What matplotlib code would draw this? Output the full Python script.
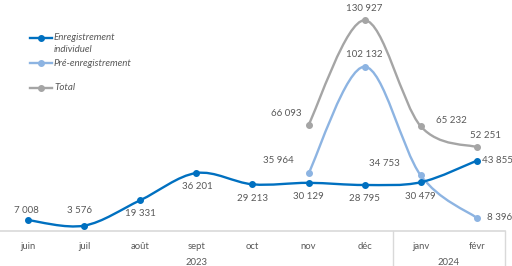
import numpy as np
import matplotlib
matplotlib.use("Agg")
import matplotlib.pyplot as plt
from matplotlib.path import Path
from matplotlib.patches import PathPatch
from matplotlib.lines import Line2D

plt.rcParams['font.family'] = ['Lato', 'DejaVu Sans']

months = ['juin', 'juil', 'août', 'sept', 'oct', 'nov', 'déc', 'janv', 'févr']
years = ['2023', '2024']
year_spans = [(0, 6), (7, 8)]

individuel = [7008, 3576, 19331, 36201, 29213, 30129, 28795, 30479, 43855]
pre_x = [5, 6, 7, 8]
pre_enreg = [35964, 102132, 34753, 8396]
total = [66093, 130927, 65232, 52251]

c_ind = '#0070C0'
c_pre = '#8DB4E2'
c_tot = '#A5A5A5'
c_txt = '#595959'


def fmt(v):
    return f'{v:,}'.replace(',', ' ')


def smooth_path(xs, ys):
    # excel-like smoothed line: catmull-rom as cubic bezier
    pts = np.column_stack([xs, ys]).astype(float)
    n = len(pts)
    verts = [pts[0]]
    codes = [Path.MOVETO]
    for i in range(n - 1):
        p0 = pts[max(i - 1, 0)]
        p1 = pts[i]
        p2 = pts[i + 1]
        p3 = pts[min(i + 2, n - 1)]
        verts += [p1 + (p2 - p0) / 6, p2 - (p3 - p1) / 6, p2]
        codes += [Path.CURVE4] * 3
    return Path(verts, codes)


fig = plt.figure(figsize=(5.12, 2.66), dpi=100)
ax = fig.add_axes([0, 0.13, 0.986, 0.87])
ax.set_xlim(-0.5, 8.5)
ax.set_ylim(0, 143500)

x_ind = np.arange(len(months))
series = [
    (pre_x, total, c_tot),
    (pre_x, pre_enreg, c_pre),
    (x_ind, individuel, c_ind),
]
for xs, ys, col in series:
    ax.add_patch(PathPatch(smooth_path(xs, ys), fill=False, edgecolor=col,
                           lw=1.7, capstyle='round', zorder=3))
    ax.plot(xs, ys, 'o', color=col, ms=4, zorder=4)


def labels(xs, vals, offsets):
    for x, v, (dx, dy, ha) in zip(xs, vals, offsets):
        ax.annotate(fmt(v), (x, v), xytext=(dx, dy), textcoords='offset points',
                    ha=ha, va='center', fontsize=7, color=c_txt)


labels(x_ind, individuel,
       [(-1.5, 7, 'center'), (-3.5, 11, 'center'), (0, -9.5, 'center'),
        (0.5, -10, 'center'), (0, -10, 'center'), (0, -10, 'center'),
        (0, -9.5, 'center'), (0, -10, 'center'), (4, 0, 'left')])
labels(pre_x, pre_enreg,
       [(-22, 9.5, 'center'), (0, 9, 'center'), (-26, 8.5, 'center'), (7, 0, 'left')])
labels(pre_x, total,
       [(-16, 8.5, 'center'), (0, 8.5, 'center'), (22, 4, 'center'), (6.5, 8.6, 'center')])

# axes styling
for s in ['top', 'right', 'left']:
    ax.spines[s].set_visible(False)
ax.spines['bottom'].set_color('#D9D9D9')
ax.spines['bottom'].set_linewidth(1.2)
ax.set_yticks([])
ax.set_xticks(x_ind)
ax.set_xticklabels(months, fontsize=6.8, color=c_txt)
ax.tick_params(axis='x', length=0, pad=7.5)

trans = ax.get_xaxis_transform()
for name, (a, b) in zip(years, year_spans):
    ax.text((a + b) / 2, -0.135, name, transform=trans, ha='center', va='center',
            fontsize=6.8, color=c_txt)
for xv in [6.5, 8.5]:
    ax.plot([xv, xv], [0, -0.16], transform=trans, color='#D9D9D9', lw=1, clip_on=False)

# legend
leg_items = [('Enregistrement\nindividuel', c_ind, 38), ('Pré-enregistrement', c_pre, 63), ('Total', c_tot, 88)]
for label, col, ypx in leg_items:
    yf = 1 - ypx / 266
    fig.add_artist(Line2D([30 / 512, 52 / 512], [yf, yf], color=col, lw=1.7,
                          transform=fig.transFigure))
    fig.add_artist(Line2D([41 / 512], [yf], color=col, marker='o', ms=4,
                          transform=fig.transFigure))
    fig.text(54 / 512, yf + 4.5 / 266, label, ha='left', va='top', fontsize=7,
             style='italic', color=c_txt, linespacing=1.4)

fig.savefig('out.png', dpi=100)
